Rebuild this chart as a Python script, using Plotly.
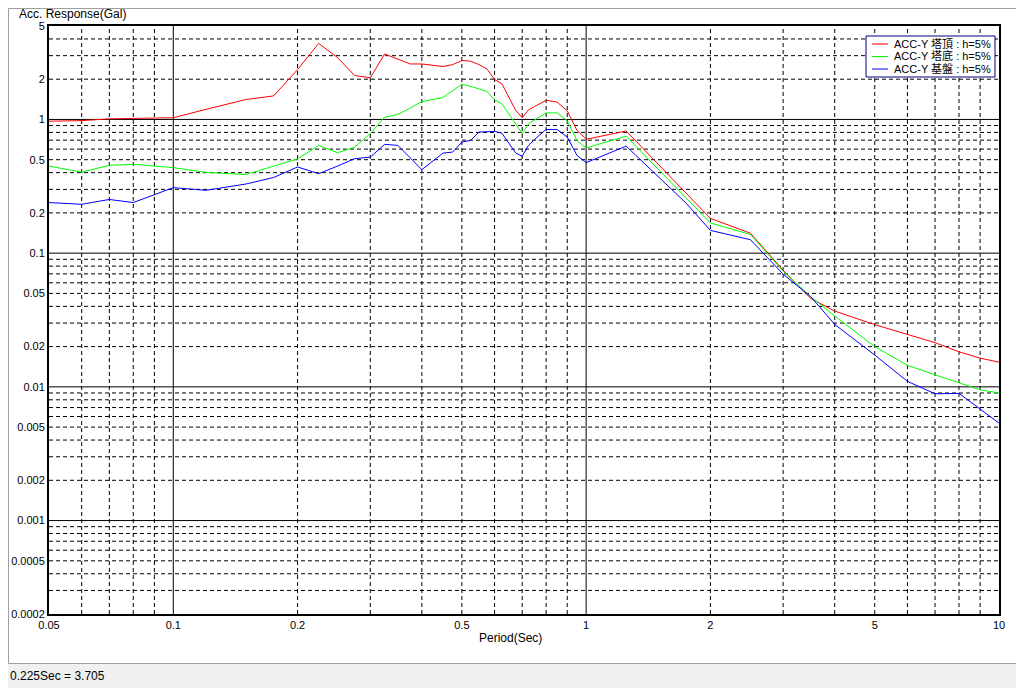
import math
import plotly.graph_objects as go

# ---------------- data ----------------
periods = [0.05, 0.06, 0.07, 0.08, 0.1, 0.12, 0.15, 0.175, 0.2, 0.225, 0.25, 0.275,
           0.3, 0.325, 0.35, 0.375, 0.4, 0.45, 0.475, 0.5, 0.525, 0.55, 0.575, 0.6,
           0.625, 0.675, 0.7, 0.725, 0.75, 0.8, 0.85, 0.9, 0.95, 1.0, 1.25, 1.75,
           2.0, 2.5, 3.0, 3.5, 4.0, 5, 6, 7, 8, 9, 10]

acc_top = [0.97, 0.98, 1.01, 1.02, 1.03, 1.19, 1.41, 1.50, 2.36, 3.705, 2.90, 2.13,
           2.05, 3.09, 2.83, 2.60, 2.60, 2.49, 2.57, 2.76, 2.73, 2.57, 2.39, 1.99,
           1.85, 1.17, 1.03, 1.18, 1.25, 1.39, 1.35, 1.16, 0.83, 0.71, 0.82, 0.277,
           0.182, 0.141, 0.0745, 0.0458, 0.0369, 0.0292, 0.0246, 0.0214, 0.0183, 0.0164, 0.0153]

acc_bottom = [0.448, 0.404, 0.454, 0.462, 0.436, 0.402, 0.387, 0.447, 0.507, 0.640, 0.564, 0.621,
              0.782, 1.04, 1.09, 1.22, 1.36, 1.46, 1.63, 1.83, 1.77, 1.69, 1.62, 1.40,
              1.31, 0.927, 0.782, 0.929, 0.99, 1.12, 1.12, 0.978, 0.697, 0.611, 0.750, 0.256,
              0.168, 0.138, 0.0734, 0.0472, 0.0339, 0.0200, 0.0145, 0.0123, 0.0107, 0.0095, 0.0090]

acc_base = [0.239, 0.232, 0.252, 0.239, 0.309, 0.295, 0.329, 0.368, 0.441, 0.393, 0.448, 0.509,
            0.523, 0.651, 0.640, 0.518, 0.421, 0.560, 0.570, 0.677, 0.697, 0.804, 0.810, 0.814,
            0.790, 0.562, 0.530, 0.640, 0.709, 0.842, 0.842, 0.738, 0.539, 0.475, 0.632, 0.235,
            0.148, 0.126, 0.0697, 0.0472, 0.0293, 0.0173, 0.0110, 0.00887, 0.00894, 0.00685, 0.00536]

series_names = ["ACC-Y 塔頂 : h=5%", "ACC-Y 塔底 : h=5%", "ACC-Y 基盤 : h=5%"]
series_colors = ["#ff0000", "#00ff00", "#0000ff"]

x_tickvals = [0.05, 0.1, 0.2, 0.5, 1, 2, 5, 10]
x_ticktext = ["0.05", "0.1", "0.2", "0.5", "1", "2", "5", "10"]
y_tickvals = [0.0002, 0.0005, 0.001, 0.002, 0.005, 0.01, 0.02, 0.05, 0.1, 0.2, 0.5, 1, 2, 5]
y_ticktext = ["0.0002", "0.0005", "0.001", "0.002", "0.005", "0.01", "0.02", "0.05",
              "0.1", "0.2", "0.5", "1", "2", "5"]

x_title = "Period(Sec)"
y_title = "Acc. Response(Gal)"
status_text = "0.225Sec = 3.705"

X_MIN, X_MAX = 0.05, 10
Y_MIN, Y_MAX = 0.0002, 5

# ---------------- layout geometry ----------------
SCREEN_W, SCREEN_H = 1024, 688
OFF = 8                       # page body margin
W, H = SCREEN_W - OFF, SCREEN_H - OFF
PL, PR, PT, PB = 49, 999, 26, 614  # plot area in screen pixels


def px_x(px):
    return (px - PL) / (PR - PL)


def px_y(py):
    return (PB - py) / (PB - PT)


NARROW = "Liberation Sans Narrow, Liberation Sans, Arial, sans-serif"
REG = "Liberation Sans, Noto Sans CJK JP, Arial, sans-serif"

fig = go.Figure()
for vals, name, col in zip([acc_top, acc_bottom, acc_base], series_names, series_colors):
    fig.add_trace(go.Scatter(x=periods, y=vals, mode="lines", name=name,
                             line=dict(color=col, width=1), showlegend=False))

shapes = []


def decade_lines(lo, hi):
    solid, dashed = [], []
    e0 = math.floor(math.log10(lo)) - 1
    e1 = math.ceil(math.log10(hi)) + 1
    for e in range(e0, e1):
        for m in range(1, 10):
            v = m * 10 ** e
            if v <= lo * 1.0001 or v >= hi * 0.9999:
                continue
            (solid if m == 1 else dashed).append(v)
    return solid, dashed


xs, xd = decade_lines(X_MIN, X_MAX)
ys, yd = decade_lines(Y_MIN, Y_MAX)
for v in xd:
    shapes.append(dict(type="line", xref="x", yref="paper", x0=v, x1=v, y0=0, y1=1,
                       line=dict(color="black", width=1, dash="4px,3px"), layer="below"))
for v in xs:
    shapes.append(dict(type="line", xref="x", yref="paper", x0=v, x1=v, y0=0, y1=1,
                       line=dict(color="black", width=1), layer="below"))
for v in yd:
    shapes.append(dict(type="line", xref="paper", yref="y", x0=0, x1=1, y0=v, y1=v,
                       line=dict(color="black", width=1, dash="4px,3px"), layer="below"))
for v in ys:
    shapes.append(dict(type="line", xref="paper", yref="y", x0=0, x1=1, y0=v, y1=v,
                       line=dict(color="black", width=1), layer="below"))

# window frame and status bar
shapes.append(dict(type="rect", xref="paper", yref="paper", x0=px_x(OFF), x1=px_x(SCREEN_W),
                   y0=px_y(SCREEN_H), y1=px_y(664), fillcolor="#f0f0f0", line=dict(width=0)))
shapes.append(dict(type="rect", xref="paper", yref="paper", x0=px_x(OFF + 0.5), x1=px_x(1021.5),
                   y0=px_y(663.5), y1=px_y(OFF + 0.5), line=dict(color="#a0a0a0", width=1)))

# legend box
LX0, LX1, LY0, LY1 = 866, 995, 36, 77
shapes.append(dict(type="rect", xref="paper", yref="paper", x0=px_x(LX0), x1=px_x(LX1),
                   y0=px_y(LY1), y1=px_y(LY0), fillcolor="white",
                   line=dict(color="#000080", width=1)))
annotations = []
row_y = [44, 56.5, 69]
for ry, name, col in zip(row_y, series_names, series_colors):
    shapes.append(dict(type="line", xref="paper", yref="paper", x0=px_x(872), x1=px_x(888),
                       y0=px_y(ry), y1=px_y(ry), line=dict(color=col, width=1)))
    annotations.append(dict(x=px_x(892), y=px_y(ry), xref="paper", yref="paper",
                            text=name, showarrow=False, xanchor="left", yanchor="middle",
                            font=dict(family=REG, size=11, color="black")))

annotations.append(dict(x=px_x(17), y=px_y(14), xref="paper", yref="paper", text=y_title,
                        showarrow=False, xanchor="left", yanchor="middle",
                        font=dict(family=REG, size=12, color="black")))
annotations.append(dict(x=px_x(510), y=px_y(638), xref="paper", yref="paper", text=x_title,
                        showarrow=False, xanchor="center", yanchor="middle",
                        font=dict(family=NARROW, size=12, color="black")))
annotations.append(dict(x=px_x(8), y=px_y(676), xref="paper", yref="paper", text=status_text,
                        showarrow=False, xanchor="left", yanchor="middle",
                        font=dict(family=NARROW, size=12, color="black")))

axis_common = dict(type="log", showgrid=False, zeroline=False, showline=True, mirror=True,
                   linecolor="black", linewidth=2, ticks="", automargin=False,
                   tickfont=dict(family=NARROW, size=11, color="black"))

fig.update_layout(
    width=W, height=H, autosize=False,
    margin=dict(l=PL - OFF, r=SCREEN_W - PR, t=PT - OFF, b=SCREEN_H - PB, pad=0),
    paper_bgcolor="white", plot_bgcolor="white",
    xaxis=dict(range=[math.log10(X_MIN), math.log10(X_MAX)], tickmode="array",
               tickvals=x_tickvals, ticktext=x_ticktext, **axis_common),
    yaxis=dict(range=[math.log10(Y_MIN), math.log10(Y_MAX)], tickmode="array",
               tickvals=y_tickvals, ticktext=y_ticktext, **axis_common),
    shapes=shapes, annotations=annotations, showlegend=False,
)

fig.write_html("out.html")
